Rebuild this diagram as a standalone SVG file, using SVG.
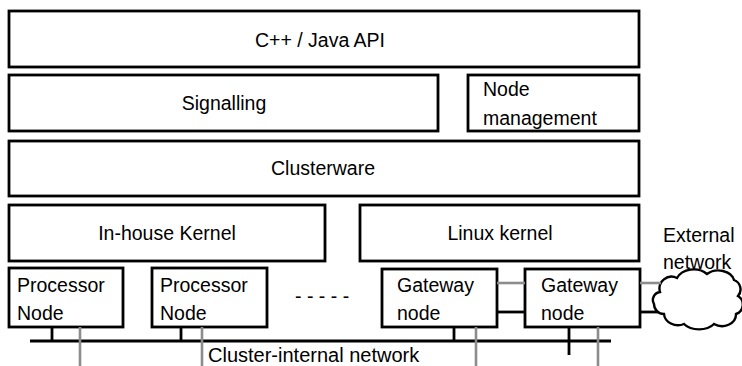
<svg xmlns="http://www.w3.org/2000/svg" width="742" height="366" viewBox="0 0 742 366">
<style>
.box{fill:#fff;stroke:#000;stroke-width:2.8}
.t{font-family:"Liberation Sans",Arial,sans-serif;font-size:19.5px;fill:#000}
.c{text-anchor:middle}
.blk{stroke:#000;stroke-width:2.8;fill:none}
.gry{stroke:#8c8c8c;stroke-width:2.6;fill:none}
</style>
<rect width="742" height="366" fill="#fff"/>
<g id="api"><rect class="box" x="9" y="11" width="630" height="56"/><text class="t c" x="320" y="47">C++ / Java API</text></g>
<g id="signalling"><rect class="box" x="9" y="75" width="429" height="56"/><text class="t c" x="224" y="110">Signalling</text></g>
<g id="nodemgmt"><rect class="box" x="468" y="75" width="171" height="56"/><text class="t" x="483" y="96">Node</text><text class="t" x="483" y="125">management</text></g>
<g id="clusterware"><rect class="box" x="9" y="141" width="630" height="55"/><text class="t c" x="323" y="175">Clusterware</text></g>
<g id="inhouse"><rect class="box" x="9" y="205" width="316" height="56"/><text class="t c" x="167" y="240">In-house Kernel</text></g>
<g id="linux"><rect class="box" x="360" y="205" width="279" height="56"/><text class="t c" x="500" y="240">Linux kernel</text></g>
<g id="pn1"><rect class="box" x="9" y="268" width="114" height="59"/><text class="t" x="17" y="292">Processor</text><text class="t" x="17" y="320">Node</text></g>
<g id="pn2"><rect class="box" x="152" y="268" width="115" height="59"/><text class="t" x="160" y="292">Processor</text><text class="t" x="160" y="320">Node</text></g>
<g id="dots"><text class="t" x="295" y="303">- - - - -</text></g>
<g id="gw1"><rect class="box" x="382" y="269" width="115" height="58"/><text class="t" x="397" y="292">Gateway</text><text class="t" x="397" y="320">node</text></g>
<g id="gw2"><rect class="box" x="525" y="269" width="115" height="58"/><text class="t" x="541" y="292">Gateway</text><text class="t" x="541" y="320">node</text></g>
<g id="external"><path d="M660 292 a12 12 0 0 1 17 -14 a18 14 0 0 1 30 -4 a16 12 0 0 1 27 6 a10 10 0 0 1 4 16 a10 10 0 0 1 -2 18 a14 12 0 0 1 -22 10 a18 12 0 0 1 -30 0 a14 12 0 0 1 -20 -10 a10 10 0 0 1 -10 -10 a8 8 0 0 1 6 -12 Z" fill="#fff" stroke="#000" stroke-width="2.4"/><text class="t" x="663" y="242">External</text><text class="t" x="663" y="269">network</text></g>
<g id="connectors">
<line class="blk" x1="30" y1="341" x2="611" y2="341"/>
<line class="blk" x1="52" y1="327" x2="52" y2="341"/>
<line class="blk" x1="181" y1="327" x2="181" y2="341"/>
<line class="blk" x1="454" y1="327" x2="454" y2="341"/>
<line class="blk" x1="569" y1="327" x2="569" y2="355"/>
<line class="gry" x1="80" y1="327" x2="80" y2="366"/>
<line class="gry" x1="202" y1="327" x2="202" y2="366"/>
<line class="gry" x1="476" y1="327" x2="476" y2="366"/>
<line class="gry" x1="598" y1="327" x2="598" y2="366"/>
<line class="gry" x1="497" y1="283" x2="525" y2="283"/>
<line class="blk" x1="497" y1="312" x2="525" y2="312"/>
<line class="gry" x1="640" y1="283" x2="661" y2="283"/>
<line class="blk" x1="640" y1="312" x2="658" y2="312"/>
</g>
<text class="t" x="208" y="362" style="font-size:20px">Cluster-internal network</text>
</svg>
